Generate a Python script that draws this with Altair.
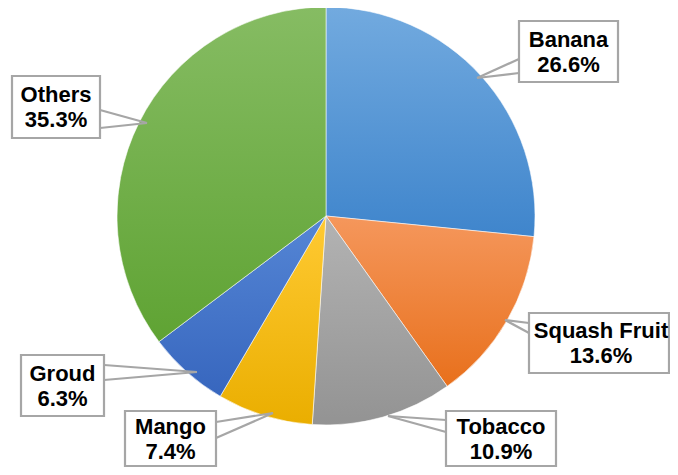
import altair as alt
import pandas as pd

# ---- data ----
NAMES = ["Banana", "Squash Fruit", "Tobacco", "Mango", "Groud", "Others"]
SHARES = [26.6, 13.6, 10.9, 7.4, 6.3, 35.3]

# ---- style: gradient colours per slice (top -> bottom) ----
COL_TOP = ["#72AADF", "#F5975C", "#B3B3B3", "#FFCA33", "#5586D5", "#86BC63"]
COL_BOT = ["#3F85CC", "#E8701C", "#939393", "#EAAE00", "#3766BE", "#5FA333"]

# ---- layout of callout boxes (pixels, chart coordinates) ----
BOX_X0 = [511, 521, 438, 117, 13, 4]
BOX_X1 = [610, 661, 548, 208, 96, 92]
BOX_Y0 = [13, 305, 403, 403, 347, 68]
BOX_Y1 = [74, 365, 458, 458, 408, 130]
TIP_X = [469, 497, 380, 265, 189, 139]
TIP_Y = [70, 312, 408, 405, 364, 115]
BASE_X = [511, 521, 438, 208, 96, 92]
BASE_Y0 = [51, 315, 412, 414, 357, 102]
BASE_Y1 = [65, 325, 424, 430, 372, 120]
TEXT_DX = [0, 2, 0, 0, 0, 0]

W, H = 662, 459
CX, CY, R = 318, 208, 209
TOTAL = sum(SHARES)

df = pd.DataFrame({"name": NAMES, "share": SHARES, "order": list(range(len(NAMES)))})
lab = pd.DataFrame({
    "name": NAMES, "share": SHARES,
    "x0": BOX_X0, "x1": BOX_X1, "y0": BOX_Y0, "y1": BOX_Y1,
    "tx": TIP_X, "ty": TIP_Y, "bx": BASE_X, "by0": BASE_Y0, "by1": BASE_Y1,
    "tdx": TEXT_DX,
})

theta_scale = alt.Scale(domain=[0, TOTAL], range=[0, 6.283185307])
xs = alt.Scale(domain=[0, W], range=[0, W])
ys = alt.Scale(domain=[0, H], range=[0, H])

base_arc = alt.Chart(df).transform_window(
    end="sum(share)", sort=[alt.SortField("order")]
).transform_calculate(start="datum.end - datum.share")

arcs = []
for i, n in enumerate(NAMES):
    grad = {
        "gradient": "linear", "x1": 0, "y1": 0, "x2": 0, "y2": 1,
        "stops": [{"offset": 0, "color": COL_TOP[i]}, {"offset": 1, "color": COL_BOT[i]}],
    }
    arcs.append(
        base_arc.transform_filter(alt.datum.name == n)
        .mark_arc(radius=R, fill=grad, stroke="#FFFFFF", strokeWidth=0.8, strokeOpacity=0.7)
        .encode(
            theta=alt.Theta("start:Q", scale=theta_scale),
            theta2="end:Q",
            x=alt.value(CX),
            y=alt.value(CY),
        )
    )

lb = alt.Chart(lab)
line1 = lb.mark_rule(color="#A6A6A6", strokeWidth=2.2).encode(
    x=alt.X("bx:Q", scale=xs, axis=None), y=alt.Y("by0:Q", scale=ys, axis=None),
    x2="tx:Q", y2="ty:Q",
)
line2 = lb.mark_rule(color="#A6A6A6", strokeWidth=2.2).encode(
    x=alt.X("bx:Q", scale=xs, axis=None), y=alt.Y("by1:Q", scale=ys, axis=None),
    x2="tx:Q", y2="ty:Q",
)
boxes = lb.mark_rect(fill="white", stroke="#A6A6A6", strokeWidth=2.2).encode(
    x=alt.X("x0:Q", scale=xs, axis=None), x2="x1:Q",
    y=alt.Y("y0:Q", scale=ys, axis=None), y2="y1:Q",
)
texts = lb.transform_calculate(
    label="datum.name + '\\n' + format(datum.share, '.1f') + '%'",
    cx="(datum.x0 + datum.x1) / 2 + datum.tdx",
    cy="(datum.y0 + datum.y1) / 2",
).mark_text(
    font="Liberation Sans", fontWeight="bold", fontSize=22, lineHeight=25,
    lineBreak="\n", align="center", baseline="middle", color="#000000", dy=-12,
).encode(
    x=alt.X("cx:Q", scale=xs, axis=None), y=alt.Y("cy:Q", scale=ys, axis=None),
    text="label:N",
)

chart = alt.layer(*arcs, line1, line2, boxes, texts).properties(
    width=W, height=H, autosize=alt.AutoSizeParams(type="none"), padding=0,
    background="white",
).configure_view(stroke=None)

chart.save("out.html", embed_options={"renderer": "svg", "actions": False})
